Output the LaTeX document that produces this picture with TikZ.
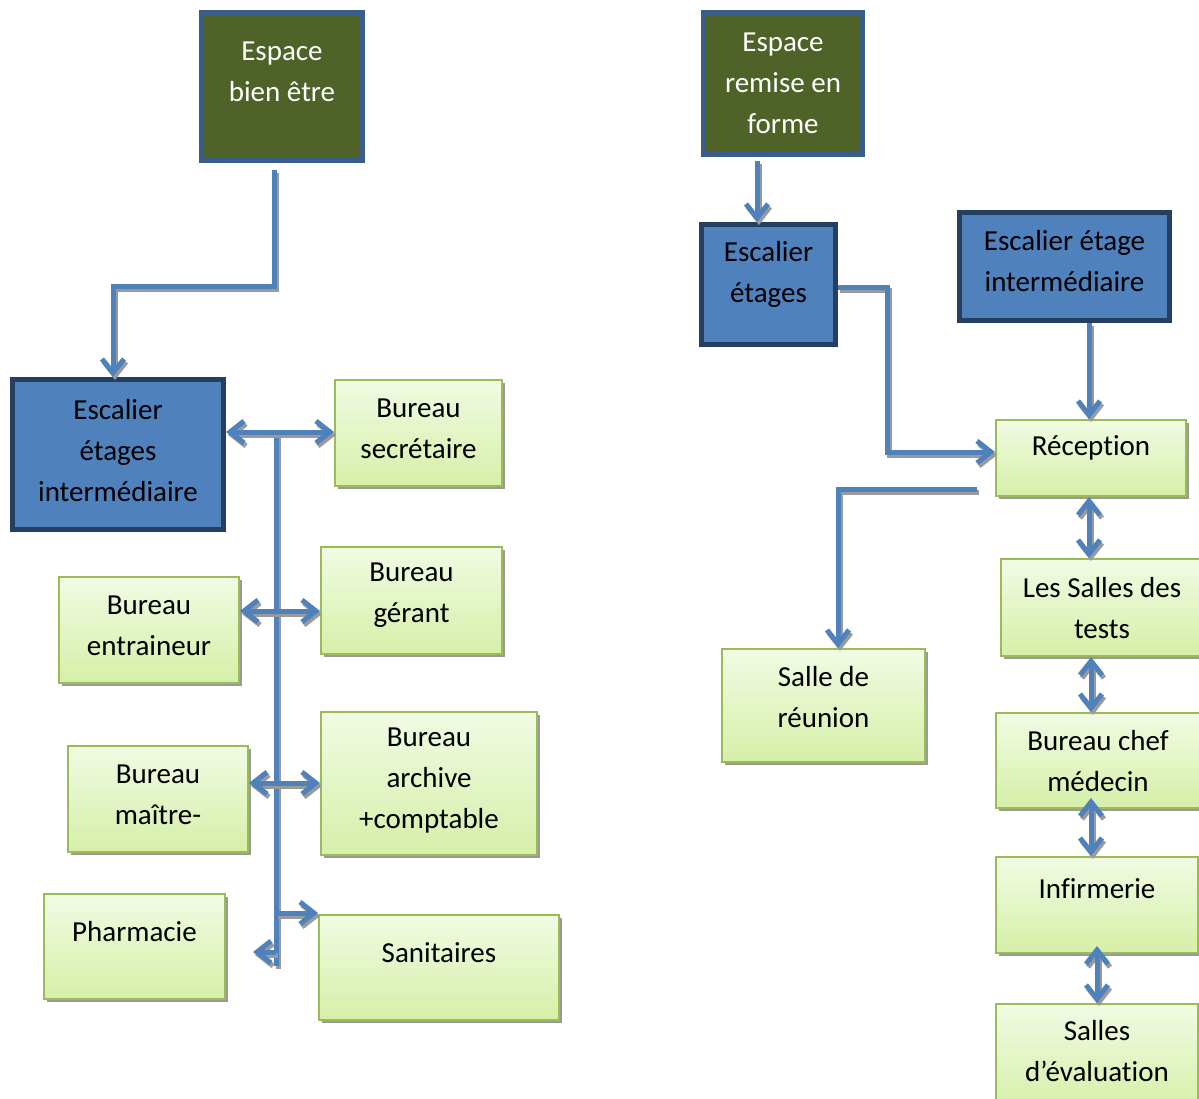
\documentclass[tikz,border=0pt]{standalone}
\usepackage{fontspec}
\setmainfont{Carlito}[Ligatures=NoCommon]
\usetikzlibrary{arrows.meta,shadows,calc}
\definecolor{lineblue}{HTML}{4F81BD}
\definecolor{olivefill}{HTML}{4F6228}
\definecolor{oliveborder}{HTML}{385D8A}
\definecolor{bluefill}{HTML}{4F81BD}
\definecolor{blueborder}{HTML}{243F60}
\definecolor{gborder}{HTML}{9BBB59}
\definecolor{gtop}{HTML}{F1FBE3}
\definecolor{gbot}{HTML}{D6EFA8}
\definecolor{shadowgray}{HTML}{9A9A9A}
\tikzset{
  dbox/.style={draw=oliveborder, line width=5pt, fill=olivefill, inner sep=0pt},
  bbox/.style={draw=blueborder, line width=5pt, fill=bluefill, inner sep=0pt},
  gbox/.style={draw=gborder, line width=2pt, top color=gtop, bottom color=gbot, inner sep=0pt,
    drop shadow={shadow xshift=3pt, shadow yshift=-3pt, fill=shadowgray, opacity=1}},
  txt/.style={font=\fontsize{29}{41}\selectfont, align=center, inner sep=0pt},
  wtxt/.style={txt, text=white},
  connline/.style={draw=lineblue, line width=5pt},
  connshadow/.style={draw=shadowgray, line width=5pt, transform canvas={xshift=2pt,yshift=-3pt}},
  arr/.style={-{Straight Barb[length=14pt,width=22pt]}},
  darr/.style={{Straight Barb[length=14pt,width=22pt]}-{Straight Barb[length=14pt,width=22pt]}},
}
\newcommand\myconn[2]{%
  \draw[connshadow,#1] #2;
  \draw[connline,#1] #2;}
\begin{document}
\begin{tikzpicture}[x=1pt,y=-1pt]
\path[use as bounding box] (0,0) rectangle (1199,1099);
\fill[white] (0,0) rectangle (1199,1099);
\clip (0,0) rectangle (1199,1099);

% dark green boxes
\node[dbox, minimum width=161pt, minimum height=148pt] (ebe) at (282,86.5) {};
\node[wtxt] (ebeT) at (282,71.5) {Espace\\bien être};
\node[dbox, minimum width=159pt, minimum height=142pt] (erf) at (783,83.5) {};
\node[wtxt] (erfT) at (783,83) {Espace\\remise en\\forme};

% blue boxes
\node[bbox, minimum width=211pt, minimum height=150pt] (eei) at (118,454.5) {};
\node[txt] (eeiT) at (118,451) {Escalier\\étages\\intermédiaire};
\node[bbox, minimum width=134pt, minimum height=120pt] (ee) at (768.5,284.5) {};
\node[txt] (eeT) at (768.5,274.5) {Escalier\\étages};
\node[bbox, minimum width=210pt, minimum height=108pt] (eti) at (1064.5,266.5) {};
\node[txt] (etiT) at (1064.5,261.5) {Escalier étage\\intermédiaire};

% green boxes
\node[gbox, minimum width=167pt, minimum height=106pt] (sec) at (418.5,433) {};
\node[txt] (secT) at (418.5,429) {Bureau\\secrétaire};
\node[gbox, minimum width=181pt, minimum height=107pt] (ger) at (411.5,600.5) {};
\node[txt] (gerT) at (411.5,595.5) {Bureau\\gérant};
\node[gbox, minimum width=180pt, minimum height=106pt] (ent) at (149,630) {};
\node[txt] (entT) at (149,625.5) {Bureau\\entraineur};
\node[gbox, minimum width=216pt, minimum height=143pt] (arc) at (429,783.5) {};
\node[txt] (arcT) at (429,781) {Bureau\\archive\\+comptable};
\node[gbox, minimum width=180pt, minimum height=106pt] (mai) at (158,799) {};
\node[txt] (maiT) at (158,794.5) {Bureau\\maître-};
\node[gbox, minimum width=181pt, minimum height=105pt] (pha) at (134.5,946.5) {};
\node[txt] (phaT) at (134.5,932) {Pharmacie};
\node[gbox, minimum width=240pt, minimum height=105pt] (san) at (439,967.5) {};
\node[txt] (sanT) at (439,953) {Sanitaires};

\node[gbox, minimum width=190pt, minimum height=76pt] (rec) at (1091,458) {};
\node[txt] (recT) at (1091,448) {Réception};
\node[gbox, minimum width=202pt, minimum height=97pt] (tes) at (1102,607.5) {};
\node[txt] (tesT) at (1102,608.5) {Les Salles des\\tests};
\node[gbox, minimum width=203pt, minimum height=113pt] (reu) at (823.5,705.5) {};
\node[txt] (reuT) at (823.5,697.5) {Salle de\\réunion};
\node[gbox, minimum width=204pt, minimum height=95pt] (chef) at (1098,760.5) {};
\node[txt] (chefT) at (1098,761.5) {Bureau chef\\médecin};
\node[gbox, minimum width=202pt, minimum height=96pt] (inf) at (1097,905) {};
\node[txt] (infT) at (1097,889) {Infirmerie};
\node[gbox, minimum width=202pt, minimum height=105pt] (eva) at (1097,1056.5) {};
\node[txt] (evaT) at (1097,1051.5) {Salles\\d’évaluation};

% junction coordinates
\coordinate (trTop) at (276,432);
\coordinate (trBot) at (276,966);
\coordinate (j2) at (276,611);
\coordinate (j3) at (276,783);
\coordinate (j4) at (276,913);
\coordinate (j5) at (276,952);
\coordinate (j5t) at (253,952);
\coordinate (r1) at (977,489);

% left connectors
\myconn{arr}{([xshift=-8pt,yshift=-7pt]ebe.south) -- ++(0,117) -| ([xshift=-5pt]eei.north)}
\myconn{}{(trTop) -- (trBot)}
\myconn{darr}{(eei.east |- trTop) -- (sec.west |- trTop)}
\myconn{darr}{(ent.east |- j2) -- (ger.west |- j2)}
\myconn{darr}{(mai.east |- j3) -- (arc.west |- j3)}
\myconn{arr}{(j4) -- (san.west |- j4)}
\myconn{arr}{(j5) -- (j5t)}

% right connectors
\myconn{arr}{([xshift=-26pt,yshift=-4pt]erf.south) -- ([xshift=-11.5pt]ee.north)}
\myconn{arr}{([yshift=-3.5pt]ee.east) -| ([xshift=-108pt,yshift=6pt]rec.west) -- ([yshift=6pt]rec.west)}
\myconn{arr}{([xshift=24.5pt]eti.south) -- ([xshift=-2pt]rec.north)}
\myconn{arr}{(r1) -| ([xshift=14.5pt]reu.north)}
\myconn{darr}{([xshift=-2pt]rec.south) -- ([xshift=-2pt]rec.south |- tes.north)}
\myconn{darr}{([xshift=-11pt]tes.south) -- ([xshift=-11pt]tes.south |- chef.north)}
\myconn{darr}{([xshift=-7pt,yshift=11pt]chef.south) -- ([xshift=-7pt]chef.south |- inf.north)}
\myconn{darr}{([yshift=8pt]inf.south) -- (inf.south |- eva.north)}
\end{tikzpicture}
\end{document}
